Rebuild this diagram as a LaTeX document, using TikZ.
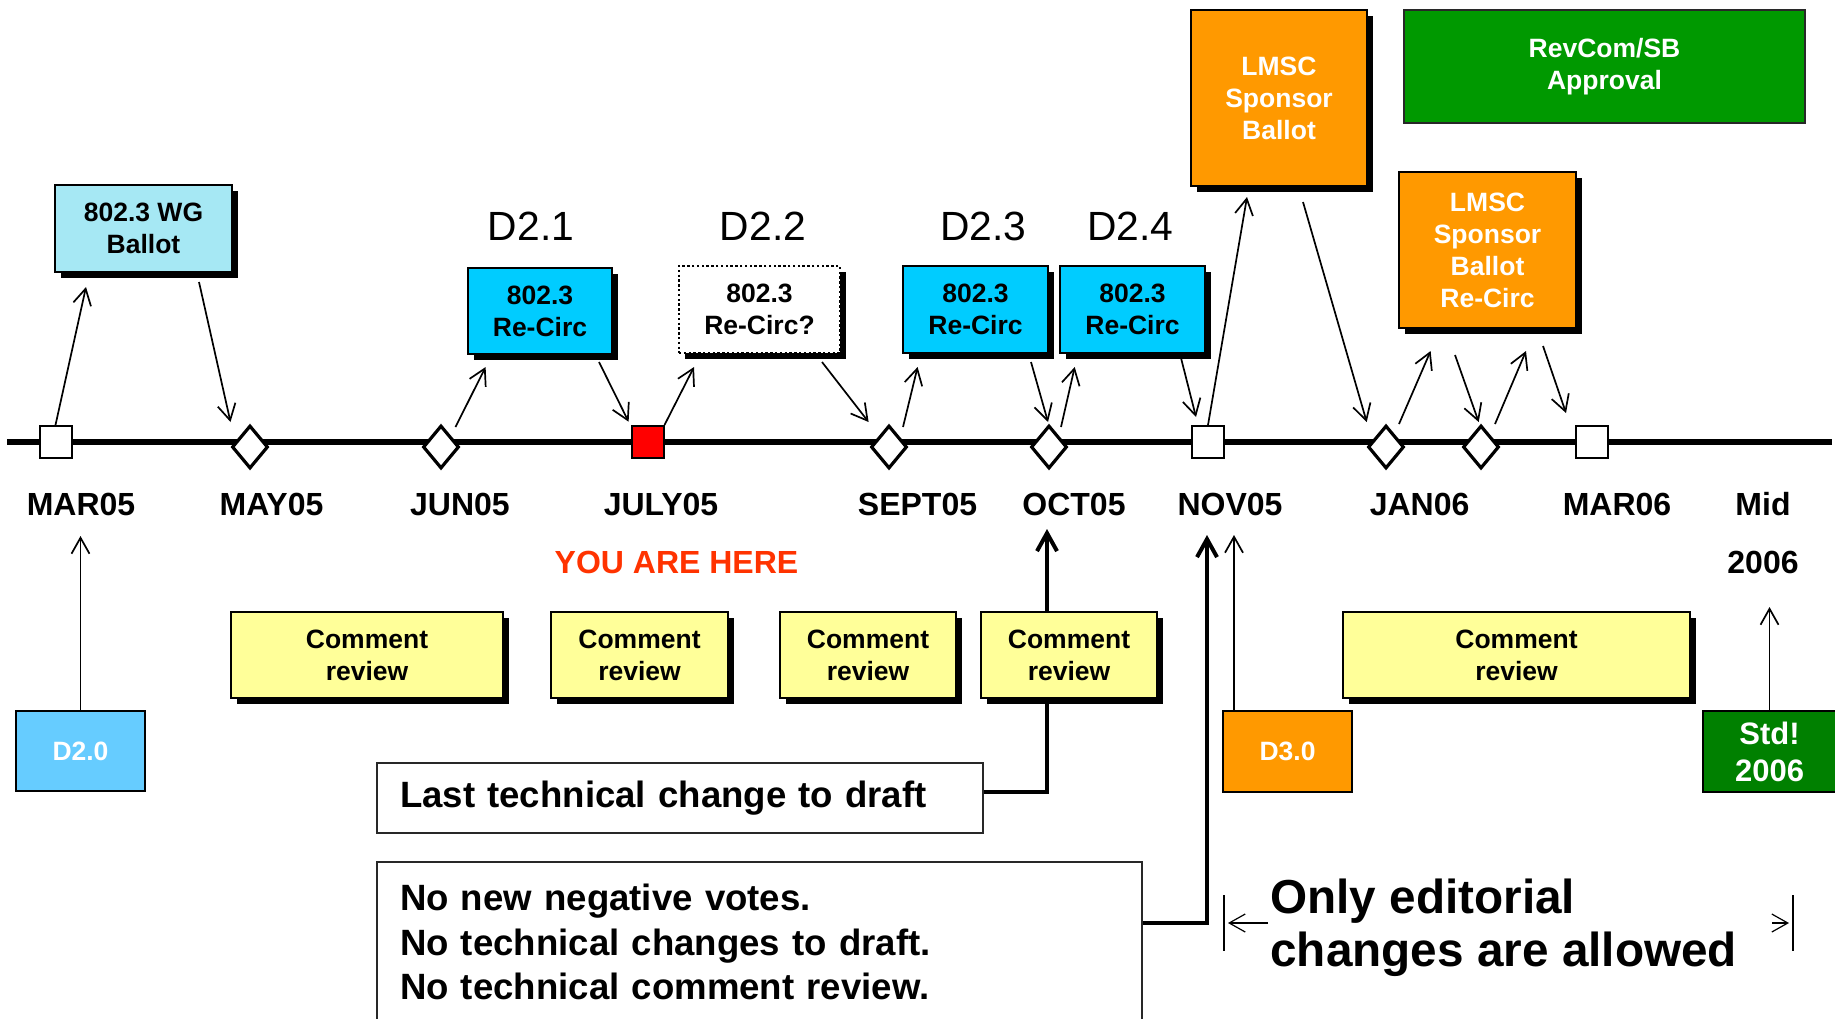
\documentclass[tikz,border=0pt]{standalone}
\usepackage{fontspec}
\setmainfont{Liberation Sans}
\usetikzlibrary{arrows.meta,shapes.geometric,shadows}
\definecolor{wgblue}{RGB}{166,232,244}
\definecolor{rcblue}{RGB}{0,204,255}
\definecolor{lorange}{RGB}{255,153,0}
\definecolor{rgreen}{RGB}{0,153,0}
\definecolor{sgreen}{RGB}{0,128,0}
\definecolor{cyellow}{RGB}{255,255,153}
\definecolor{dblue}{RGB}{102,204,255}
\definecolor{hered}{RGB}{255,51,0}
\definecolor{bord}{RGB}{40,40,40}
\tikzset{
 arr/.style={line width=0.85pt,-{Straight Barb[length=8pt,width=9pt]}},
 thk/.style={line width=2pt,-{Straight Barb[length=9pt,width=10pt]}},
 bx/.style={draw=black,line width=1.3pt,inner sep=0pt,align=center,font=\fontsize{13.25pt}{16pt}\selectfont\bfseries},
 shad/.style={drop shadow={shadow xshift=3pt,shadow yshift=-3pt,opacity=1,fill=black}},
 sqm/.style={draw,fill=white,line width=1pt,inner sep=0pt,minimum width=16pt,minimum height=16pt},
 dia/.style={diamond,draw,fill=white,line width=1.6pt,inner sep=0pt,minimum width=18pt,minimum height=21.5pt},
 mon/.style={font=\fontsize{16pt}{19pt}\selectfont\bfseries,inner sep=0pt},
 dver/.style={font=\fontsize{20.4pt}{24pt}\selectfont,inner sep=0pt},
 bignote/.style={draw=bord,line width=1.4pt,align=left,inner xsep=11.5pt,inner ysep=0pt,font=\fontsize{18.3pt}{22.25pt}\selectfont\bfseries},
 edit/.style={font=\fontsize{23.85pt}{26.75pt}\selectfont\bfseries,anchor=base west,inner sep=0pt},
}
\begin{document}
\begin{tikzpicture}[x=0.5pt,y=-0.5pt]
\useasboundingbox[fill=white] (0,0) rectangle (1835,1018);

% timeline
\coordinate (tl0) at (7,442);
\coordinate (tl1) at (1832,442);
\draw[line width=3pt] (tl0) -- (tl1);

% markers
\node[sqm] (mar05) at (55.5,442) {};
\node[dia] (may05) at (250,447) {};
\node[dia] (jun05) at (441,447) {};
\node[sqm,fill=red] (jul05) at (647.5,442) {};
\node[dia] (sep05) at (889,447) {};
\node[dia] (oct05) at (1049,447) {};
\node[sqm] (nov05) at (1208,442) {};
\node[dia] (jan06) at (1386,447) {};
\node[dia] (jan06b) at (1481,447) {};
\node[sqm] (mar06) at (1592,442) {};

% month labels
\node[mon] (lmar05) at (81,504) {MAR05};
\node[mon] (lmay05) at (271.5,504) {MAY05};
\node[mon] (ljun05) at (460,504) {JUN05};
\node[mon] (ljul05) at (661,504) {JULY05};
\node[mon] (lsep05) at (917.5,504) {SEPT05};
\node[mon] (loct05) at (1074,504) {OCT05};
\node[mon] (lnov05) at (1230,504) {NOV05};
\node[mon] (ljan06) at (1419.6,504) {JAN06};
\node[mon] (lmar06) at (1617,504) {MAR06};
\node[mon] (lmid) at (1763,504) {Mid};
\node[mon] (l2006) at (1763,562) {2006};
\node[mon,text=hered] (here) at (676.5,562) {YOU ARE HERE};

% draft version labels
\node[dver] (v21) at (531,226) {D2.1};
\node[dver] (v22) at (763,226) {D2.2};
\node[dver] (v23) at (983.5,226) {D2.3};
\node[dver] (v24) at (1130.5,226) {D2.4};

% notes
\node[bignote,text width=280pt,minimum height=35pt] (last) at (680,798) {\raisebox{-1.5pt}{Last technical change to draft}};
\node[bignote,text width=359.5pt,minimum height=80pt] (nonew) at (759.5,942) {No new negative votes.\\No technical changes to draft.\\No technical comment review.};

\coordinate (octup) at (1047,529);
\coordinate (novup) at (1207,535);
\draw[thk] ([yshift=3pt]last.east) -| (octup);
\draw[thk] ([yshift=9.5pt]nonew.east) -| (novup);

% upper boxes
\node[bx,shad,fill=wgblue,minimum width=88.5pt,minimum height=43.5pt] (wg) at (143.5,228.5) {802.3 WG\\Ballot};
\node[bx,shad,fill=rcblue,minimum width=72pt,minimum height=43pt] (rc1) at (540,311) {802.3\\Re-Circ};
\node[bx,shad,fill=white,line width=1pt,dash pattern=on 1.2pt off 1.2pt,minimum width=80.5pt,minimum height=43.5pt] (rc2) at (759.5,309.5) {802.3\\Re-Circ?};
\node[bx,shad,fill=rcblue,minimum width=72.5pt,minimum height=43.5pt] (rc3) at (975.5,309.5) {802.3\\Re-Circ};
\node[bx,shad,fill=rcblue,minimum width=72.5pt,minimum height=43.5pt] (rc4) at (1132.5,309.5) {802.3\\Re-Circ};
\node[bx,shad,fill=lorange,text=white,minimum width=88pt,minimum height=88pt] (lmsc) at (1279,98) {LMSC\\Sponsor\\Ballot};
\node[bx,draw=bord,fill=rgreen,text=white,minimum width=200.5pt,minimum height=56.5pt] (revcom) at (1604.5,66.5) {RevCom/SB\\Approval};
\node[bx,shad,fill=lorange,text=white,minimum width=88.5pt,minimum height=78pt] (lmscrc) at (1487.5,250) {LMSC\\Sponsor\\Ballot\\Re-Circ};

% comment review boxes
\node[bx,shad,fill=cyellow,minimum width=136pt,minimum height=43pt] (cr1) at (367,655) {Comment\\review};
\node[bx,shad,fill=cyellow,minimum width=88.5pt,minimum height=43pt] (cr2) at (639.5,655) {Comment\\review};
\node[bx,shad,fill=cyellow,minimum width=88pt,minimum height=43pt] (cr3) at (868,655) {Comment\\review};
\node[bx,shad,fill=cyellow,minimum width=88pt,minimum height=43pt] (cr4) at (1069,655) {Comment\\review};
\node[bx,shad,fill=cyellow,minimum width=173.5pt,minimum height=43pt] (cr5) at (1516.5,655) {Comment\\review};

% draft boxes
\node[bx,fill=dblue,text=white,minimum width=64.5pt,minimum height=40pt] (d20) at (80.5,751) {D2.0};
\node[bx,fill=lorange,text=white,minimum width=64.5pt,minimum height=40.5pt] (d30) at (1287.5,751.5) {D3.0};
\node[bx,fill=sgreen,text=white,minimum width=66.5pt,minimum height=40.5pt,font=\fontsize{15.5pt}{18.5pt}\selectfont\bfseries] (std) at (1769.5,751.5) {Std!\\2006};

% connectors along the timeline
\coordinate (p1b) at (86,287);
\coordinate (p2a) at (199,282);   \coordinate (p2b) at (230.5,422);
\coordinate (p3a) at (455.5,427); \coordinate (p3b) at (485.6,367);
\coordinate (p4a) at (599,362);   \coordinate (p4b) at (628.6,421.7);
\coordinate (p5b) at (694,367);
\coordinate (p6a) at (822,362);   \coordinate (p6b) at (868.6,422);
\coordinate (p7a) at (903,427);   \coordinate (p7b) at (917.6,367);
\coordinate (p8a) at (1031,362);  \coordinate (p8b) at (1048,422);
\coordinate (p9a) at (1061,427);  \coordinate (p9b) at (1074.7,367);
\coordinate (p10a) at (1181,358); \coordinate (p10b) at (1196,417);
\coordinate (p11b) at (1247,197);
\coordinate (p12a) at (1303,202); \coordinate (p12b) at (1366.7,422);
\coordinate (p13a) at (1399,424); \coordinate (p13b) at (1430.6,351);
\coordinate (p14a) at (1455,355); \coordinate (p14b) at (1478.7,422);
\coordinate (p15a) at (1495,424); \coordinate (p15b) at (1526,351);
\coordinate (p16a) at (1543,346); \coordinate (p16b) at (1566,413);

\draw[arr] (mar05.north) -- (p1b);
\draw[arr] (p2a) -- (p2b);
\draw[arr] (p3a) -- (p3b);
\draw[arr] (p4a) -- (p4b);
\draw[arr] (jul05.north east) -- (p5b);
\draw[arr] (p6a) -- (p6b);
\draw[arr] (p7a) -- (p7b);
\draw[arr] (p8a) -- (p8b);
\draw[arr] (p9a) -- (p9b);
\draw[arr] (p10a) -- (p10b);
\draw[arr] (nov05.north) -- (p11b);
\draw[arr] (p12a) -- (p12b);
\draw[arr] (p13a) -- (p13b);
\draw[arr] (p14a) -- (p14b);
\draw[arr] (p15a) -- (p15b);
\draw[arr] (p16a) -- (p16b);

% vertical arrows from draft boxes
\coordinate (d20up) at (80.5,536);
\coordinate (d30s) at (1234,711);
\coordinate (d30up) at (1234,535);
\coordinate (stdup) at (1769.5,607);
\draw[arr] (d20.north) -- (d20up);
\draw[arr] (d30s) -- (d30up);
\draw[arr] (std.north) -- (stdup);

% editorial range
\node[edit] (oe1) at (1270,913) {Only editorial};
\node[edit] (oe2) at (1270,966) {changes are allowed};
\coordinate (bl0) at (1224,895); \coordinate (bl1) at (1224,951);
\coordinate (br0) at (1793,895); \coordinate (br1) at (1793,951);
\coordinate (al0) at (1268,923); \coordinate (al1) at (1228,923);
\coordinate (ar0) at (1772,923); \coordinate (ar1) at (1789,923);
\draw[line width=0.6pt] (bl0) -- (bl1);
\draw[line width=0.6pt] (br0) -- (br1);
\draw[line width=0.6pt,-{Straight Barb[length=8pt,width=9pt]}] (al0) -- (al1);
\draw[line width=0.6pt,-{Straight Barb[length=8pt,width=9pt]}] (ar0) -- (ar1);
\end{tikzpicture}
\end{document}
